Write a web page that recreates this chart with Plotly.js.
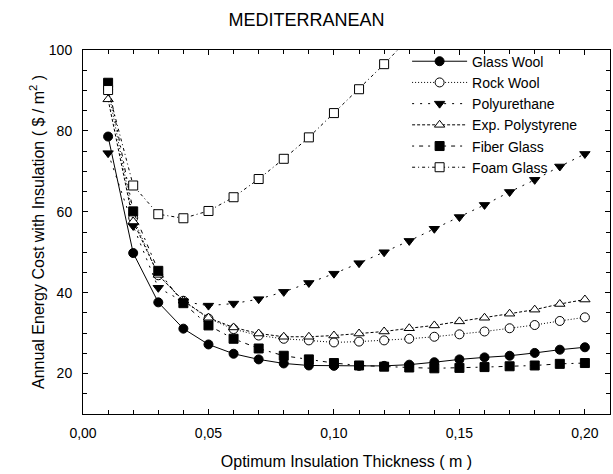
<!DOCTYPE html>
<html>
<head>
<meta charset="utf-8">
<script src="https://cdn.plot.ly/plotly-3.0.1.min.js"></script>
<style>html,body{margin:0;padding:0;background:#fff;}#chart{width:613px;height:474px;}</style>
</head>
<body>
<div id="chart"></div>
<script>
var thickness = [0.01,0.02,0.03,0.04,0.05,0.06,0.07,0.08,0.09,0.10,0.11,0.12,0.13,0.14,0.15,0.16,0.17,0.18,0.19,0.20];
var foamThickness = [0.01,0.02,0.03,0.04,0.05,0.06,0.07,0.08,0.09,0.10,0.11,0.12,0.13];

var glassWool    = [78.6,49.8,37.6,31.1,27.2,24.9,23.5,22.5,22.0,21.9,21.9,21.9,22.2,22.8,23.5,24.0,24.4,25.1,25.9,26.5];
var rockWool     = [90.3,58.5,44.3,38.0,33.6,31.0,29.4,28.6,28.2,27.7,27.9,28.2,28.6,29.1,29.7,30.4,31.2,32.0,33.0,33.9];
var polyurethane = [74.5,56.5,41.2,37.8,36.8,37.3,38.4,40.2,42.4,44.7,47.3,50.0,52.8,55.8,58.7,61.7,64.9,67.9,71.2,74.3];
var expPolystyrene = [87.8,57.6,44.4,38.0,33.8,31.4,29.9,29.1,29.1,29.4,29.9,30.4,31.2,31.9,32.9,33.8,34.8,35.8,37.2,38.3];
var fiberGlass   = [91.9,60.1,45.4,37.4,31.9,28.6,26.2,24.4,23.5,22.6,22.0,21.7,21.5,21.3,21.4,21.6,21.8,22.0,22.4,22.6];
var foamGlass    = [90.1,66.5,59.4,58.4,60.2,63.6,68.1,73.1,78.4,84.4,90.3,96.5,103.0];

var names = ['Glass Wool','Rock Wool','Polyurethane','Exp. Polystyrene','Fiber Glass','Foam Glass'];

function tr(x, y, name, symbol, fill, dash) {
  return {
    x: x, y: y, name: name, type: 'scatter', mode: 'lines+markers',
    line: {color: '#000', width: 1, dash: dash},
    marker: {symbol: symbol, size: 9, color: fill, line: {color: '#000', width: 1}}
  };
}

var data = [
  tr(thickness, glassWool, names[0], 'circle', '#000', 'solid'),
  tr(thickness, rockWool, names[1], 'circle', '#fff', '1px,2px'),
  tr(thickness, polyurethane, names[2], 'triangle-down', '#000', '2px,6px'),
  tr(thickness, expPolystyrene, names[3], 'triangle-up', '#fff', '3px,2px'),
  tr(thickness, fiberGlass, names[4], 'square', '#000', '2px,5px,4px,5px'),
  tr(foamThickness, foamGlass, names[5], 'square', '#fff', '3px,3px,1px,3px')
];

var FONT = 'Liberation Sans, Arial, sans-serif';
var tickFont = {family: FONT, size: 14, color: '#000'};

var layout = {
  width: 613, height: 474,
  margin: {l: 83, r: 3, t: 50, b: 60},
  paper_bgcolor: '#fff', plot_bgcolor: '#fff',
  separators: ',.',
  font: {family: FONT, color: '#000', size: 14},
  title: {text: 'MEDITERRANEAN', x: 0.5, xanchor: 'center', y: 0.958, yanchor: 'middle',
          font: {family: FONT, size: 18, color: '#000'}},
  showlegend: true,
  legend: {x: 0.615, y: 1.012, xanchor: 'left', yanchor: 'top', bgcolor: 'rgba(0,0,0,0)',
           font: {family: FONT, size: 14, color: '#000'},
           tracegroupgap: 0, itemwidth: 55},
  xaxis: {
    range: [0, 0.21], dtick: 0.05, tick0: 0, tickformat: '.2f',
    showgrid: false, zeroline: false, showline: true, linecolor: '#000', linewidth: 1,
    mirror: 'ticks', ticks: 'inside', ticklen: 5, tickcolor: '#000', tickfont: tickFont,
    ticklabelstandoff: 6,
    minor: {dtick: 0.01, ticks: 'inside', ticklen: 4, tickcolor: '#000', showgrid: false},
    title: {text: 'Optimum Insulation Thickness ( m )', standoff: 16,
            font: {family: FONT, size: 16, color: '#000'}}
  },
  yaxis: {
    range: [10, 100], dtick: 20, tick0: 0,
    showgrid: false, zeroline: false, showline: true, linecolor: '#000', linewidth: 1,
    mirror: 'ticks', ticks: 'inside', ticklen: 5, tickcolor: '#000', tickfont: tickFont,
    ticklabelstandoff: 7,
    minor: {dtick: 5, ticks: 'inside', ticklen: 4, tickcolor: '#000', showgrid: false},
    title: {text: 'Annual Energy Cost with Insulation ( $ / m<sup>2</sup> )', standoff: 0,
            font: {family: FONT, size: 16, color: '#000'}}
  }
};

Plotly.newPlot('chart', data, layout, {displayModeBar: false, staticPlot: true});
</script>
</body>
</html>
